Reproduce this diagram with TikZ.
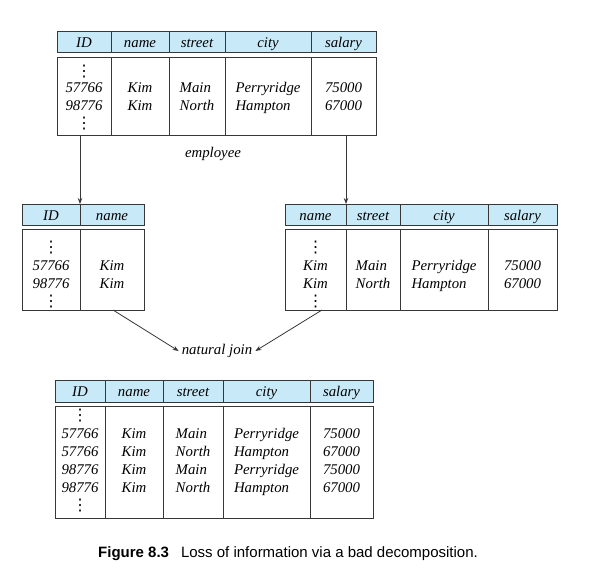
\documentclass[tikz,border=0pt]{standalone}
\usepackage{fontspec}
\setmainfont{Liberation Serif}
\newfontfamily\capfont{Liberation Sans}
\newfontfamily\dvfont{DejaVu Sans}
\usetikzlibrary{arrows.meta}
\definecolor{hdrblue}{RGB}{200,233,248}
\definecolor{rulegray}{RGB}{55,55,55}
\newcommand\tbfnt{\fontsize{14.8}{18}\selectfont\itshape}
\newcommand\rs{\rule[-4pt]{0pt}{18pt}}
\newcommand\rsT{\rule[-4pt]{0pt}{27pt}}
\newcommand\rsB{\rule[-5.5pt]{0pt}{18pt}}
\newcommand\vd{{\dvfont\upshape\fontsize{16}{18}\selectfont ⋮}}
\begin{document}
\begin{tikzpicture}[x=1pt,y=-1pt,
  cellbox/.style={draw=rulegray, line width=0.9pt, inner sep=0pt, outer sep=0pt,
    anchor=north west, font=\tbfnt},
  hdr/.style={cellbox, fill=hdrblue, minimum height=21, text height=13, text depth=2},
  lft/.style={cellbox, align=left},
  ctr/.style={cellbox, align=center},
  arr/.style={draw=rulegray, line width=0.8pt, -{Stealth[length=6pt,width=4.5pt]}},
  lbl/.style={font=\fontsize{14.8}{16}\selectfont\itshape, inner sep=1pt}]
\useasboundingbox (0,0) rectangle (604,568);

% ---------- top table: employee ----------
\node[hdr, minimum width=54] (T-ID) at (57,31) {ID};
\node[hdr, minimum width=58] (T-name) at (111,31) {name};
\node[hdr, minimum width=56] (T-street) at (169,31) {street};
\node[hdr, minimum width=86] (T-city) at (225,31) {city};
\node[hdr, minimum width=65] (T-salary) at (311,31) {salary};
\node[ctr, minimum width=54, minimum height=78] (T-ID-b) at (57,57) {\raisebox{-3pt}{\vd}\rs\\57766\rs\\98776\rs\\\vd\rs};
\node[lft, minimum width=58, minimum height=78] (T-name-b) at (111,57) {Kim\rs\\Kim\rs};
\node[lft, minimum width=56, minimum height=78] (T-street-b) at (169,57) {Main\rs\\North\rs};
\node[lft, minimum width=86, minimum height=78] (T-city-b) at (225,57) {Perryridge\rs\\Hampton\rs};
\node[lft, minimum width=65, minimum height=78] (T-salary-b) at (311,57) {75000\rs\\67000\rs};
\node[lbl] (emp) at (213,154) {employee};

% ---------- left table ----------
\node[hdr, minimum width=58] (L-ID) at (22,204) {ID};
\node[hdr, minimum width=64] (L-name) at (80,204) {name};
\node[ctr, minimum width=58, minimum height=81] (L-ID-b) at (22,229) {\vd\rsT\\57766\rs\\98776\rs\\\vd\rs};
\node[lft, minimum width=64, minimum height=81] (L-name-b) at (80,229) {Kim\rsT\\Kim\rs};

% ---------- right table ----------
\node[hdr, minimum width=61] (R-name) at (285,204) {name};
\node[hdr, minimum width=54] (R-street) at (346,204) {street};
\node[hdr, minimum width=88] (R-city) at (400,204) {city};
\node[hdr, minimum width=69] (R-salary) at (488,204) {salary};
\node[ctr, minimum width=61, minimum height=81] (R-name-b) at (285,229) {\vd\rsT\\Kim\rs\\Kim\rs\\\vd\rs};
\node[lft, minimum width=54, minimum height=81] (R-street-b) at (346,229) {Main\rsT\\North\rs};
\node[lft, minimum width=88, minimum height=81] (R-city-b) at (400,229) {Perryridge\rsT\\Hampton\rs};
\node[lft, minimum width=69, minimum height=81] (R-salary-b) at (488,229) {75000\rsT\\67000\rs};

% ---------- natural join ----------
\node[lbl] (nj) at (217,351) {natural join};

% ---------- bottom table ----------
\node[hdr, minimum width=50, minimum height=22] (B-ID) at (55,380) {ID};
\node[hdr, minimum width=58, minimum height=22] (B-name) at (105,380) {name};
\node[hdr, minimum width=60, minimum height=22] (B-street) at (163,380) {street};
\node[hdr, minimum width=87, minimum height=22] (B-city) at (223,380) {city};
\node[hdr, minimum width=63, minimum height=22] (B-salary) at (310,380) {salary};
\node[ctr, minimum width=50, minimum height=112] (B-ID-b) at (55,406) {\vd\rsB\\57766\rsB\\57766\rsB\\98776\rsB\\98776\rsB\\\vd\rsB};
\node[lft, minimum width=58, minimum height=112] (B-name-b) at (105,406) {Kim\rsB\\Kim\rsB\\Kim\rsB\\Kim\rsB};
\node[lft, minimum width=60, minimum height=112] (B-street-b) at (163,406) {Main\rsB\\North\rsB\\Main\rsB\\North\rsB};
\node[lft, minimum width=87, minimum height=112] (B-city-b) at (223,406) {Perryridge\rsB\\Hampton\rsB\\Perryridge\rsB\\Hampton\rsB};
\node[lft, minimum width=63, minimum height=112] (B-salary-b) at (310,406) {75000\rsB\\67000\rsB\\75000\rsB\\67000\rsB};

% ---------- connectors ----------
\draw[arr] (T-ID-b.south -| L-ID.north east) -- (L-ID.north east);
\draw[arr] (T-salary-b.south -| R-name.north east) -- (R-name.north east);
\draw[arr] (L-name-b.south west) ++(33,0) coordinate (ljs) -- ([xshift=-2pt]nj.west);
\draw[arr] (R-name-b.south west) ++(37,0) coordinate (rjs) -- ([xshift=2pt]nj.east);

% ---------- caption ----------
\node[anchor=base west, inner sep=0pt, font=\capfont\fontsize{15}{17}\selectfont] (cap) at (98,557)
  {\textbf{Figure 8.3}\hspace{12pt}Loss of information via a bad decomposition.};
\end{tikzpicture}
\end{document}
